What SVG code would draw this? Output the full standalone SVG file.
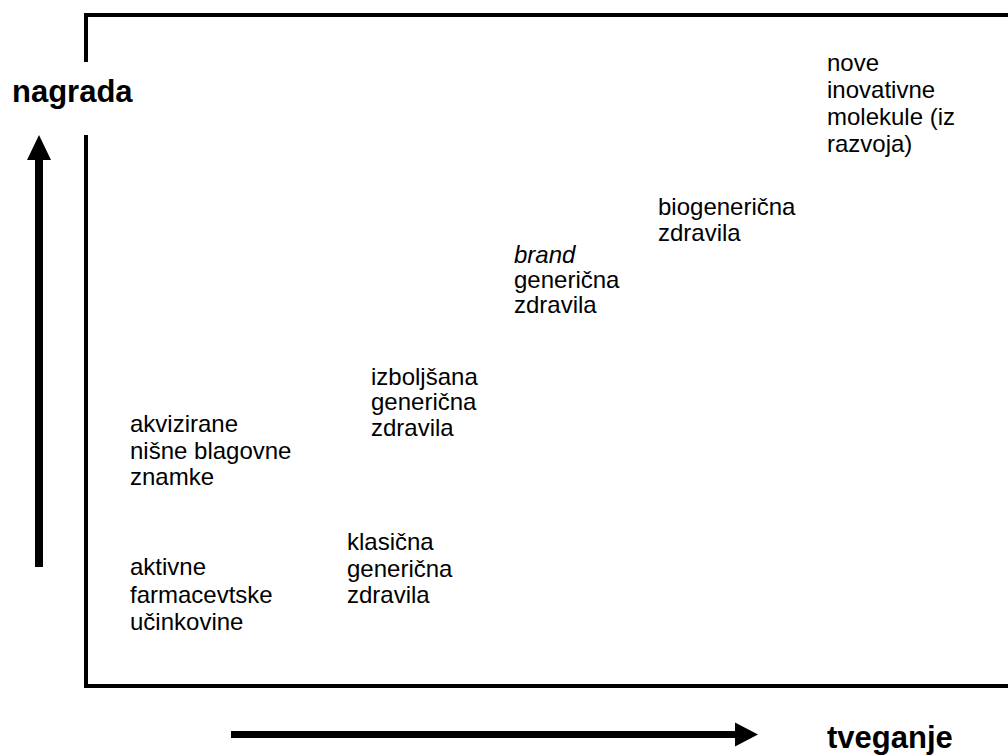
<svg xmlns="http://www.w3.org/2000/svg" width="1008" height="755" viewBox="0 0 1008 755">
<style>
.t{font-family:"Liberation Sans",Arial,sans-serif;font-size:24px;fill:#000}
.b{font-family:"Liberation Sans",Arial,sans-serif;font-size:31px;font-weight:bold;fill:#000}
.frame{stroke:#000;stroke-width:4;fill:none}
</style>
<rect width="1008" height="755" fill="#fff"/>
<g id="frame">
<path class="frame" d="M86,62 V15 H1012"/>
<path class="frame" d="M86,135 V686 H1012"/>
</g>
<g id="connectors">
<path d="M35,567 V160 H27 L39,135 L51,160 H43 V567 Z" fill="#000"/>
<path d="M231,731 H735 V722.5 L758,734.5 L735,746.5 V738 H231 Z" fill="#000"/>
</g>
<g id="axis-y"><text class="b" x="12" y="102">nagrada</text></g>
<g id="axis-x"><text class="b" x="827" y="748">tveganje</text></g>
<g id="n-nove"><text class="t" x="827" y="71">nove</text><text class="t" x="827" y="98">inovativne</text><text class="t" x="827" y="125">molekule (iz</text><text class="t" x="827" y="152">razvoja)</text></g>
<g id="n-bio"><text class="t" x="658" y="215">biogenerična</text><text class="t" x="658" y="241">zdravila</text></g>
<g id="n-brand"><text class="t" x="514" y="263" font-style="italic">brand</text><text class="t" x="514" y="288">generična</text><text class="t" x="514" y="313">zdravila</text></g>
<g id="n-izb"><text class="t" x="371" y="385">izboljšana</text><text class="t" x="371" y="410">generična</text><text class="t" x="371" y="436">zdravila</text></g>
<g id="n-akv"><text class="t" x="130" y="432">akvizirane</text><text class="t" x="130" y="459">nišne blagovne</text><text class="t" x="130" y="485">znamke</text></g>
<g id="n-akt"><text class="t" x="130" y="575">aktivne</text><text class="t" x="130" y="603">farmacevtske</text><text class="t" x="130" y="630">učinkovine</text></g>
<g id="n-klas"><text class="t" x="347" y="550">klasična</text><text class="t" x="347" y="577">generična</text><text class="t" x="347" y="603">zdravila</text></g>
</svg>
